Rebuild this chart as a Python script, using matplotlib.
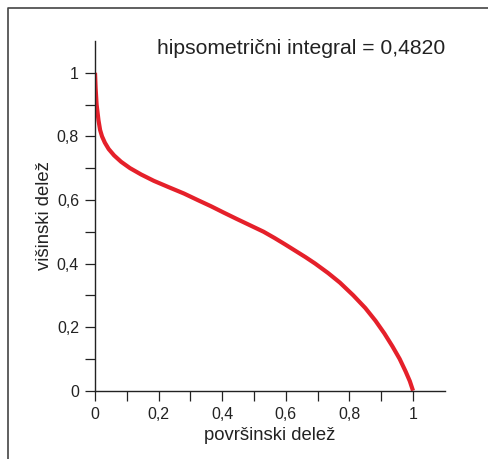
import matplotlib
matplotlib.use("Agg")
import matplotlib.pyplot as plt
from matplotlib.lines import Line2D
from matplotlib.ticker import FixedLocator

plt.rcParams['font.family'] = ['Liberation Sans', 'DejaVu Sans']

# relative area (x) and relative height (y) of the hypsometric curve
area_share = [0.0, 0.002, 0.005, 0.011, 0.016, 0.022, 0.031, 0.043, 0.06, 0.082,
              0.11, 0.145, 0.185, 0.232, 0.28, 0.322, 0.365, 0.405, 0.446, 0.488,
              0.53, 0.565, 0.598, 0.63, 0.662, 0.692, 0.733, 0.77, 0.812, 0.85,
              0.882, 0.91, 0.935, 0.958, 0.977, 0.99, 1.0]
height_share = [1.0, 0.95, 0.90, 0.85, 0.82, 0.80, 0.78, 0.76, 0.74, 0.72,
                0.70, 0.68, 0.66, 0.64, 0.62, 0.60, 0.58, 0.56, 0.54, 0.52,
                0.50, 0.48, 0.46, 0.44, 0.42, 0.40, 0.37, 0.34, 0.30, 0.26,
                0.22, 0.18, 0.14, 0.10, 0.06, 0.03, 0.0]
x_tick_labels = ['0', '0,2', '0,4', '0,6', '0,8', '1']
y_tick_labels = ['0', '0,2', '0,4', '0,6', '0,8', '1']
integral_text = 'hipsometrični integral = 0,4820'

fig = plt.figure(figsize=(4.88, 4.59), dpi=100)
ax = fig.add_axes([0.1947, 0.1488, 0.7168, 0.762])
ax.plot(area_share, height_share, color='#e5202a', lw=3.0,
        solid_capstyle='butt', solid_joinstyle='round')
ax.set_xlim(0, 1.1)
ax.set_ylim(0, 1.1)

for s in ['top', 'right']:
    ax.spines[s].set_visible(False)
for s in ['left', 'bottom']:
    ax.spines[s].set_color('#222222')
    ax.spines[s].set_linewidth(1.0)

major = [0, 0.2, 0.4, 0.6, 0.8, 1.0]
minor = [0.1, 0.3, 0.5, 0.7, 0.9]
ax.xaxis.set_major_locator(FixedLocator(major))
ax.yaxis.set_major_locator(FixedLocator(major))
ax.xaxis.set_minor_locator(FixedLocator(minor))
ax.yaxis.set_minor_locator(FixedLocator(minor))
ax.set_xticklabels(x_tick_labels)
ax.set_yticklabels(y_tick_labels)
ax.tick_params(which='both', direction='out', length=7.5, width=0.9, color='#222222',
               labelsize=11.5, labelcolor='#222222', pad=4)

ax.set_xlabel('površinski delež', fontsize=13.3, color='#222222', labelpad=4)
ax.set_ylabel('višinski delež', fontsize=13.3, color='#222222', labelpad=3)

ax.text(0.195, 1.075, integral_text, transform=ax.transData, ha='left', va='center',
        fontsize=15.2, color='#222222')

# partial frame (top and left edges)
fig.add_artist(Line2D([8/488, 8/488, 1.0], [0.0, 1 - 7.5/459, 1 - 7.5/459],
                      transform=fig.transFigure, color='#444444', lw=1.2))

fig.savefig('out.png', dpi=100)
